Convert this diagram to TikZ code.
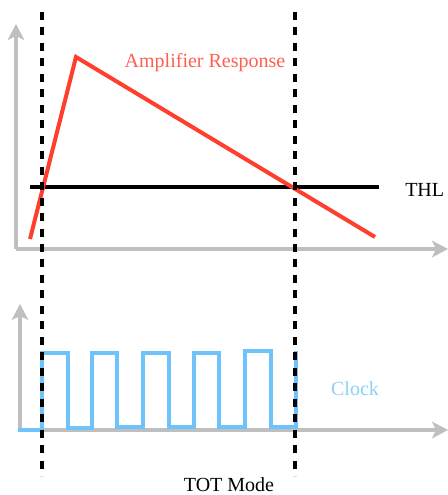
\documentclass[tikz,border=0pt]{standalone}
\usepackage{fontspec}
\setmainfont{Liberation Serif}
\usetikzlibrary{arrows.meta}
\definecolor{axisgray}{RGB}{191,191,191}
\definecolor{respred}{RGB}{255,62,45}
\definecolor{resptext}{RGB}{255,95,80}
\definecolor{clkblue}{RGB}{110,195,250}
\definecolor{clktext}{RGB}{140,208,250}
\begin{document}
\begin{tikzpicture}[x=0.75pt,y=-0.75pt,
  axisline/.style={draw=axisgray,line width=2.4pt,-{Stealth[length=12pt,width=12.5pt,inset=3pt]}},
  markerline/.style={draw=black,line width=2.6pt,dash pattern=on 6pt off 5.6pt},
  lbl/.style={inner sep=0pt,font=\fontsize{15}{18}\selectfont}]
\useasboundingbox (0,0) rectangle (448,495);
% top axes
\coordinate (o1) at (16,249);
\coordinate (y1) at (16,24);
\coordinate (x1) at (448,249);
\draw[axisline] (o1) -- (y1);
\draw[axisline] (o1) -- (x1);
% bottom axes
\coordinate (o2) at (20,430);
\coordinate (y2) at (20,304);
\coordinate (x2) at (448,430);
\draw[axisline] (o2) -- (y2);
\draw[axisline] (o2) -- (x2);
% threshold
\coordinate (thA) at (30,187);
\coordinate (thB) at (379,187);
\draw[line width=2.4pt] (thA) -- (thB);
\node[lbl,anchor=base west] (thl) at (405,196) {THL};
% amplifier response
\coordinate (rA) at (30,239);
\coordinate (rP) at (76,57);
\coordinate (rE) at (375,237);
\draw[respred,line width=3pt,line join=miter] (rA) -- (rP) -- (rE);
\node[lbl,anchor=base,text=resptext] (amp) at (205,68) {Amplifier Response};
% clock
\draw[clkblue,line width=2.7pt,line join=miter]
  (18,430) -- (42,430) -- (42,353) -- (68,353) -- (68,428) -- (92,428)
  -- (92,353) -- (117,353) -- (117,427) -- (143,427) -- (143,353) -- (169,353)
  -- (169,427) -- (194,427) -- (194,353) -- (219,353) -- (219,427) -- (245,427)
  -- (245,351) -- (271,351) -- (271,427) -- (296,427) -- (296,351);
\node[lbl,anchor=base,text=clktext] (clk) at (355,395) {Clock};
% TOT markers
\coordinate (m1t) at (42,12);
\coordinate (m1b) at (42,476);
\coordinate (m2t) at (295,12);
\coordinate (m2b) at (295,476);
\draw[markerline] (m1t) -- (m1b);
\draw[markerline] (m2t) -- (m2b);
\node[lbl,anchor=base] (tot) at (229,491.5) {TOT Mode};
\end{tikzpicture}
\end{document}
